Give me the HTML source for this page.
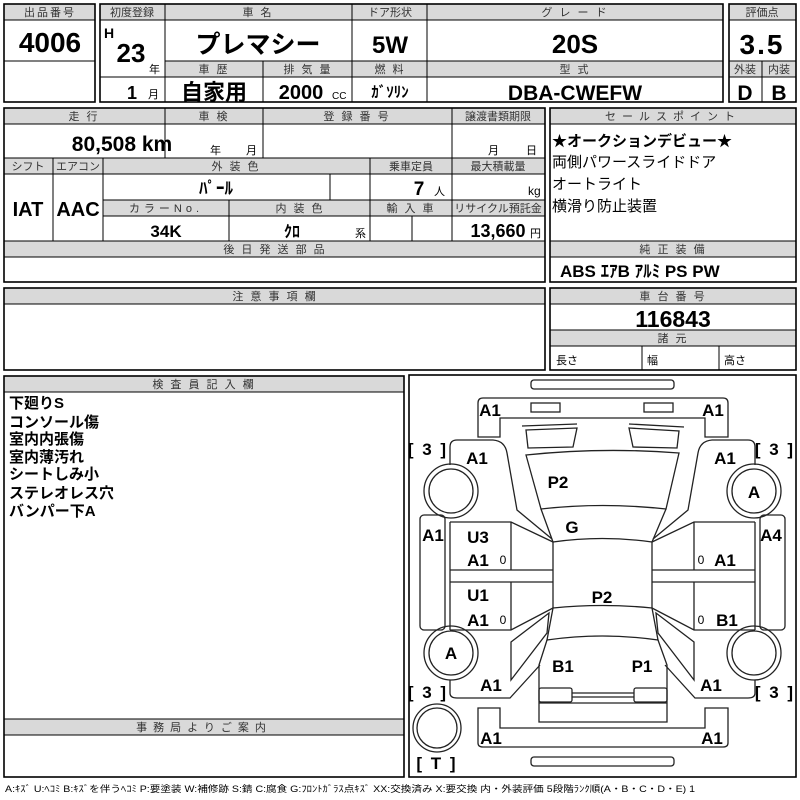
<!DOCTYPE html>
<html><head><meta charset="utf-8"><style>
html,body{margin:0;padding:0;background:#fff;}
svg{display:block}
text{font-family:"Liberation Sans","Noto Sans CJK JP",sans-serif;fill:#000}
.h{font-size:11px;fill:#333;text-anchor:middle;letter-spacing:2px}
.b{font-weight:bold;text-anchor:middle}
.g{fill:#d9d9d9;stroke:#000;stroke-width:1}
.o{fill:none;stroke:#000;stroke-width:1.6}
.l{stroke:#000;stroke-width:1;fill:none}
.c{fill:none;stroke:#222;stroke-width:1.3}
.lb{font-weight:bold;font-size:17px;text-anchor:middle}
</style></head><body>
<svg width="800" height="800" viewBox="0 0 800 800" xmlns="http://www.w3.org/2000/svg">
<!-- Box1 -->
<rect class="g" x="4" y="4" width="91" height="16"/>
<rect class="o" x="4" y="4" width="91" height="98"/>
<line class="l" x1="4" y1="61" x2="95" y2="61"/>
<text class="h" x="50" y="16">出品番号</text>
<text class="b" x="50" y="52" font-size="28">4006</text>
<!-- Box2 -->
<rect class="g" x="100" y="4" width="623" height="16"/>
<rect class="g" x="165" y="61" width="558" height="16"/>
<rect class="o" x="100" y="4" width="623" height="98"/>
<line class="l" x1="165" y1="4" x2="165" y2="102"/>
<line class="l" x1="352" y1="4" x2="352" y2="102"/>
<line class="l" x1="427" y1="4" x2="427" y2="102"/>
<line class="l" x1="263" y1="61" x2="263" y2="102"/>
<line class="l" x1="100" y1="77" x2="165" y2="77"/>
<text class="h" x="132" y="16" style="letter-spacing:0">初度登録</text>
<text class="h" x="258" y="16">車 名</text>
<text class="h" x="390" y="16" style="letter-spacing:0">ドア形状</text>
<text class="h" x="575" y="16">グ レ ー ド</text>
<text x="104" y="38" font-size="14" font-weight="bold">H</text>
<text class="b" x="131" y="62" font-size="26">23</text>
<text x="149" y="73" font-size="11">年</text>
<text class="b" x="132" y="99" font-size="18">1</text>
<text x="148" y="98" font-size="11">月</text>
<text class="b" x="258" y="53" font-size="25">プレマシー</text>
<text class="b" x="390" y="53" font-size="24">5W</text>
<text class="b" x="575" y="53" font-size="26">20S</text>
<text class="h" x="214" y="73">車 歴</text>
<text class="h" x="308" y="73">排 気 量</text>
<text class="h" x="390" y="73">燃 料</text>
<text class="h" x="575" y="73">型 式</text>
<text class="b" x="214" y="100" font-size="22">自家用</text>
<text class="b" x="301" y="99" font-size="20">2000</text>
<text x="332" y="99" font-size="10">CC</text>
<text class="b" x="390" y="97" font-size="15">ｶﾞｿﾘﾝ</text>
<text class="b" x="575" y="100" font-size="21">DBA-CWEFW</text>
<!-- Box3 -->
<rect class="g" x="729" y="4" width="67" height="16"/>
<rect class="g" x="729" y="61" width="67" height="16"/>
<rect class="o" x="729" y="4" width="67" height="98"/>
<line class="l" x1="729" y1="61" x2="796" y2="61"/>
<line class="l" x1="762" y1="61" x2="762" y2="102"/>
<text class="h" x="762" y="16" style="letter-spacing:0">評価点</text>
<text class="b" x="762" y="54" font-size="28" letter-spacing="2">3.5</text>
<text class="h" x="745" y="73" style="letter-spacing:0">外装</text>
<text class="h" x="779" y="73" style="letter-spacing:0">内装</text>
<text class="b" x="745" y="100" font-size="21">D</text>
<text class="b" x="779" y="100" font-size="21">B</text>
<!-- Box4 -->
<rect class="g" x="4" y="108" width="541" height="16"/>
<rect class="g" x="4" y="158" width="541" height="16"/>
<rect class="g" x="103" y="200" width="442" height="16"/>
<rect class="g" x="4" y="241" width="541" height="16"/>
<rect class="o" x="4" y="108" width="541" height="174"/>
<line class="l" x1="165" y1="108" x2="165" y2="158"/>
<line class="l" x1="263" y1="108" x2="263" y2="158"/>
<line class="l" x1="452" y1="108" x2="452" y2="241"/>
<line class="l" x1="53" y1="158" x2="53" y2="241"/>
<line class="l" x1="103" y1="158" x2="103" y2="241"/>
<line class="l" x1="370" y1="158" x2="370" y2="241"/>
<line class="l" x1="330" y1="174" x2="330" y2="200"/>
<line class="l" x1="229" y1="200" x2="229" y2="241"/>
<line class="l" x1="412" y1="216" x2="412" y2="241"/>
<text class="h" x="84" y="120">走 行</text>
<text class="h" x="214" y="120">車 検</text>
<text class="h" x="357" y="120">登 録 番 号</text>
<text class="h" x="498" y="120" style="letter-spacing:0">譲渡書類期限</text>
<text class="b" x="122" y="151" font-size="21">80,508 km</text>
<text x="210" y="154" font-size="11">年</text>
<text x="246" y="154" font-size="11">月</text>
<text x="488" y="154" font-size="11">月</text>
<text x="526" y="154" font-size="11">日</text>
<text class="h" x="28" y="170" style="letter-spacing:0">シフト</text>
<text class="h" x="78" y="170" style="letter-spacing:0">エアコン</text>
<text class="h" x="236" y="170">外 装 色</text>
<text class="h" x="411" y="170" style="letter-spacing:0">乗車定員</text>
<text class="h" x="498" y="170" style="letter-spacing:0">最大積載量</text>
<text class="b" x="28" y="216" font-size="20">IAT</text>
<text class="b" x="78" y="216" font-size="20">AAC</text>
<text class="b" x="216" y="194" font-size="17">ﾊﾟｰﾙ</text>
<text class="b" x="419" y="195" font-size="19">7</text>
<text x="434" y="195" font-size="11">人</text>
<text x="528" y="195" font-size="12">kg</text>
<text class="h" x="166" y="212" style="letter-spacing:4px">カラーNo.</text>
<text class="h" x="300" y="212">内 装 色</text>
<text class="h" x="411" y="212">輸 入 車</text>
<text class="h" x="498" y="212" style="letter-spacing:0">リサイクル預託金</text>
<text class="b" x="166" y="237" font-size="17">34K</text>
<text class="b" x="292" y="237" font-size="16">ｸﾛ</text>
<text x="355" y="237" font-size="11">系</text>
<text class="b" x="498" y="237" font-size="18">13,660</text>
<text x="530" y="237" font-size="11">円</text>
<text class="h" x="275" y="253">後 日 発 送 部 品</text>
<!-- Box5 -->
<rect class="g" x="550" y="108" width="246" height="16"/>
<rect class="g" x="550" y="241" width="246" height="16"/>
<rect class="o" x="550" y="108" width="246" height="174"/>
<text class="h" x="673" y="120" style="letter-spacing:6px">セールスポイント</text>
<text x="552" y="146" font-size="15" font-weight="bold">★オークションデビュー★</text>
<text x="552" y="167" font-size="15">両側パワースライドドア</text>
<text x="552" y="189" font-size="15">オートライト</text>
<text x="552" y="211" font-size="15">横滑り防止装置</text>
<text class="h" x="673" y="253">純 正 装 備</text>
<text x="560" y="277" font-size="17" font-weight="bold">ABS ｴｱB ｱﾙﾐ PS PW</text>
<!-- Box6 -->
<rect class="g" x="4" y="288" width="541" height="16"/>
<rect class="o" x="4" y="288" width="541" height="82"/>
<text class="h" x="275" y="300">注 意 事 項 欄</text>
<!-- Box7 -->
<rect class="g" x="550" y="288" width="246" height="16"/>
<rect class="g" x="550" y="330" width="246" height="16"/>
<rect class="o" x="550" y="288" width="246" height="82"/>
<line class="l" x1="642" y1="346" x2="642" y2="370"/>
<line class="l" x1="719" y1="346" x2="719" y2="370"/>
<text class="h" x="673" y="300">車 台 番 号</text>
<text class="b" x="673" y="327" font-size="23">116843</text>
<text class="h" x="673" y="342">諸 元</text>
<text x="556" y="364" font-size="11" fill="#333">長さ</text>
<text x="647" y="364" font-size="11" fill="#333">幅</text>
<text x="724" y="364" font-size="11" fill="#333">高さ</text>
<!-- Box8 -->
<rect class="g" x="4" y="376" width="400" height="16"/>
<rect class="g" x="4" y="719" width="400" height="16"/>
<rect class="o" x="4" y="376" width="400" height="401"/>
<text class="h" x="204" y="388">検 査 員 記 入 欄</text>
<text class="h" x="204" y="731" style="letter-spacing:6px">事務局よりご案内</text>
<g font-size="15" font-weight="bold">
<text x="9" y="408">下廻りS</text>
<text x="9" y="427">コンソール傷</text>
<text x="9" y="444">室内内張傷</text>
<text x="9" y="462">室内薄汚れ</text>
<text x="9" y="479">シートしみ小</text>
<text x="9" y="498">ステレオレス穴</text>
<text x="9" y="516">バンパー下A</text>
</g>
<!-- Diagram -->
<rect class="o" x="409" y="375" width="387" height="402" stroke-width="1.3"/>
<g transform="translate(405,375)" class="c">
<rect x="126" y="5" width="143" height="9" rx="3"/>
<path d="M73,62 L73,28 Q73,23 78,23 L318,23 Q323,23 323,28 L323,62 L300,62 L300,43 L95,43 L95,62 Z"/>
<rect x="126" y="28" width="29" height="9"/>
<rect x="239" y="28" width="29" height="9"/>
<path d="M117,51 L172,49 M224,49 L279,52"/>
<path d="M121,55 L172,53 L168,72 L123,73 Z"/>
<path d="M224,53 L274,56 L272,73 L228,72 Z"/>
<path d="M121,80 Q197,72 274,78 L261,134 Q197,127 136,134 Z"/>
<path d="M136,134 L148,167 Q197,160 247,167 L261,134"/>
<path d="M148,167 L148,233 Q197,228 247,233 L247,167"/>
<path d="M148,233 L142,265 Q197,257 253,265 L247,233"/>
<path d="M142,265 L134,290 L134,347 L262,347 L262,290 L253,265"/>
<rect x="134" y="313" width="33" height="14" rx="2"/>
<rect x="229" y="313" width="33" height="14" rx="2"/>
<path d="M167,318 L229,318 M167,322 L229,322 M134,328 L262,328"/>
<path d="M73,333 L73,368 Q73,372 78,372 L318,372 Q323,372 323,368 L323,333 L300,333 L300,353 L95,353 L95,333 Z"/>
<rect x="126" y="382" width="143" height="9" rx="3"/>
<path d="M45,90 L45,72 Q45,65 52,65 L88,65 Q100,66 102,78 L112,135 L147,164"/>
<path d="M350,90 L350,72 Q350,65 343,65 L307,65 Q295,66 293,78 L283,135 L248,164"/>
<rect x="15" y="140" width="25" height="115" rx="4"/>
<rect x="355" y="140" width="25" height="115" rx="4"/>
<path d="M45,147 L106,147 L148,167 M45,147 L45,255 M106,147 L106,195 M45,195 L148,195 M45,207 L148,207 M106,207 L106,255 M45,255 L106,255 L148,233"/>
<path d="M350,147 L289,147 L247,167 M350,147 L350,255 M289,147 L289,195 M350,195 L247,195 M350,207 L247,207 M289,207 L289,255 M350,255 L289,255 L247,233"/>
<path d="M106,267 L144,238 L142,258 L106,305 Z"/>
<path d="M289,267 L251,238 L253,258 L289,305 Z"/>
<path d="M45,305 L45,318 Q45,323 52,323 L105,323 L135,290"/>
<path d="M350,305 L350,318 Q350,323 343,323 L290,323 L260,290"/>
<circle cx="46" cy="116" r="27"/><circle cx="46" cy="116" r="22"/>
<circle cx="349" cy="116" r="27"/><circle cx="349" cy="116" r="22"/>
<circle cx="46" cy="278" r="27"/><circle cx="46" cy="278" r="22"/>
<circle cx="349" cy="278" r="27"/><circle cx="349" cy="278" r="22"/>
<circle cx="32" cy="353" r="24"/><circle cx="32" cy="353" r="20"/>
</g>
<g transform="translate(405,375)">
<text class="lb" x="85" y="41">A1</text>
<text class="lb" x="308" y="41">A1</text>
<text class="lb" x="23" y="80" letter-spacing="2">[ 3 ]</text>
<text class="lb" x="370" y="80" letter-spacing="2">[ 3 ]</text>
<text class="lb" x="72" y="89">A1</text>
<text class="lb" x="320" y="89">A1</text>
<text class="lb" x="153" y="113">P2</text>
<text class="lb" x="349" y="123">A</text>
<text class="lb" x="167" y="158">G</text>
<text class="lb" x="28" y="166">A1</text>
<text class="lb" x="366" y="166">A4</text>
<text class="lb" x="73" y="168">U3</text>
<text class="lb" x="73" y="191">A1</text>
<text x="98" y="189" font-size="12" text-anchor="middle">0</text>
<text x="296" y="189" font-size="12" text-anchor="middle">0</text>
<text class="lb" x="320" y="191">A1</text>
<text class="lb" x="197" y="228">P2</text>
<text class="lb" x="73" y="226">U1</text>
<text class="lb" x="73" y="251">A1</text>
<text x="98" y="249" font-size="12" text-anchor="middle">0</text>
<text x="296" y="249" font-size="12" text-anchor="middle">0</text>
<text class="lb" x="322" y="251">B1</text>
<text class="lb" x="46" y="284">A</text>
<text class="lb" x="158" y="297">B1</text>
<text class="lb" x="237" y="297">P1</text>
<text class="lb" x="86" y="316">A1</text>
<text class="lb" x="306" y="316">A1</text>
<text class="lb" x="23" y="323" letter-spacing="2">[ 3 ]</text>
<text class="lb" x="370" y="323" letter-spacing="2">[ 3 ]</text>
<text class="lb" x="86" y="369">A1</text>
<text class="lb" x="307" y="369">A1</text>
<text class="lb" x="32" y="394" letter-spacing="2">[ T ]</text>
</g>
<text x="5" y="792" font-size="9" fill="#333" textLength="690" lengthAdjust="spacingAndGlyphs">A:ｷｽﾞ U:ﾍｺﾐ B:ｷｽﾞを伴うﾍｺﾐ P:要塗装 W:補修跡 S:錆 C:腐食 G:ﾌﾛﾝﾄｶﾞﾗｽ点ｷｽﾞ XX:交換済み X:要交換 内・外装評価 5段階ﾗﾝｸ順(A・B・C・D・E) 1</text>
</svg>
</body></html>
